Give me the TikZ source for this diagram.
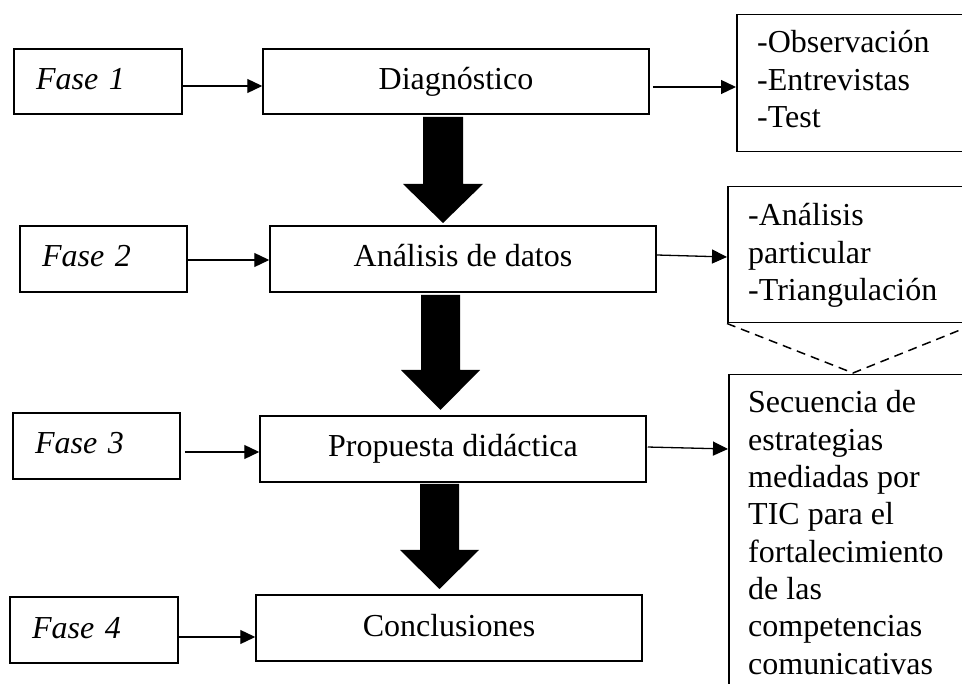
\documentclass[tikz,border=0pt]{standalone}
\usepackage{fontspec}
\setmainfont{Liberation Serif}
\usetikzlibrary{arrows.meta,calc}
\newcommand{\bigfont}{\fontsize{32}{37.3}\selectfont}
\begin{document}
\begin{tikzpicture}[x=1pt,y=-1pt,
  box/.style={draw,line width=1.5pt,inner sep=0pt,font=\bigfont,
    text height=22pt,text depth=6pt},
  fasebox/.style={box,minimum height=66pt,align=left,text width=#1pt-44pt,
    inner xsep=22pt,font=\bigfont\itshape},
  mainbox/.style={box,minimum width=386pt,minimum height=66pt},
  sidebox/.style={draw,line width=1.5pt,inner sep=0pt,anchor=north west},
  sidetext/.style={anchor=base west,inner sep=0pt,font=\bigfont},
  conn/.style={line width=1.3pt,-{Triangle[length=15pt,width=14pt]}},
  blockarrow/.style={fill=black}
]
\clip (0,0) rectangle (962,684);
\fill[white] (0,0) rectangle (962,684);

% phase boxes
\node[fasebox=168,minimum width=168pt,minimum height=65pt] (F1) at (98,81.5) {Fase 1};
\node[fasebox=167,minimum width=167pt] (F2) at (103.5,259) {Fase 2};
\node[fasebox=167,minimum width=167pt] (F3) at (96.5,446) {Fase 3};
\node[fasebox=168,minimum width=168pt] (F4) at (94,630) {Fase 4};

% main boxes
\node[mainbox,minimum height=65pt] (D) at (456,81.5) {Diagnóstico};
\node[mainbox] (A) at (463,259) {Análisis de datos};
\node[mainbox] (P) at (453,449) {Propuesta didáctica};
\node[mainbox] (C) at (449,628) {Conclusiones};

% side boxes (run past the right edge)
\node[sidebox,minimum width=300pt,minimum height=137pt] (Obs) at (736,14) {};
\node[sidebox,minimum width=300pt,minimum height=136pt] (AP) at (727,186) {};
\node[sidebox,minimum width=300pt,minimum height=340pt] (Sec) at (728,374) {};

\node[sidetext] (ObsT) at ($(Obs.north west)+(21,39)$)
  {\begin{tabular}[t]{@{}l@{}}-Observación\\-Entrevistas\\-Test\end{tabular}};
\node[sidetext] (APT) at ($(AP.north west)+(21,40)$)
  {\begin{tabular}[t]{@{}l@{}}-Análisis\\particular\\-Triangulación\end{tabular}};
\node[sidetext] (SecT) at ($(Sec.north west)+(20,39)$)
  {\begin{tabular}[t]{@{}l@{}}Secuencia de\\estrategias\\mediadas por\\TIC para el\\fortalecimiento\\de las\\competencias\\comunicativas\end{tabular}};

% dashed callout triangle
\draw[line width=1.5pt,dash pattern=on 9pt off 6pt]
  (AP.south west) -- (853,373) -- (980,322);

% connectors
\draw[conn] (F1.east |- 0,86) -- (D.west |- 0,86);
\draw[conn] (F2.east |- 0,260) -- (A.west |- 0,260);
\draw[conn,shorten <=4pt] (F3.east |- 0,452) -- (P.west |- 0,452);
\draw[conn] (F4.east |- 0,637) -- (C.west |- 0,637);
\draw[conn,shorten <=3pt] (D.east |- 0,87) -- (Obs.west |- 0,87);
\draw[conn] (A.east |- 0,255) -- (AP.west |- 0,257);
\draw[conn,shorten <=1pt] (P.east |- 0,447) -- (Sec.west |- 0,449);

% block arrows
\fill[blockarrow] (423,117) -- (463,117) -- (463,184) -- (483,184) -- (443,223)
  -- (403,184) -- (423,184) -- cycle;
\fill[blockarrow] (421,295) -- (460,295) -- (460,370) -- (480,370) -- (440.5,410)
  -- (401,370) -- (421,370) -- cycle;
\fill[blockarrow] (420,484) -- (459,484) -- (459,550) -- (479,550) -- (439.5,589)
  -- (400,550) -- (420,550) -- cycle;
\end{tikzpicture}
\end{document}
